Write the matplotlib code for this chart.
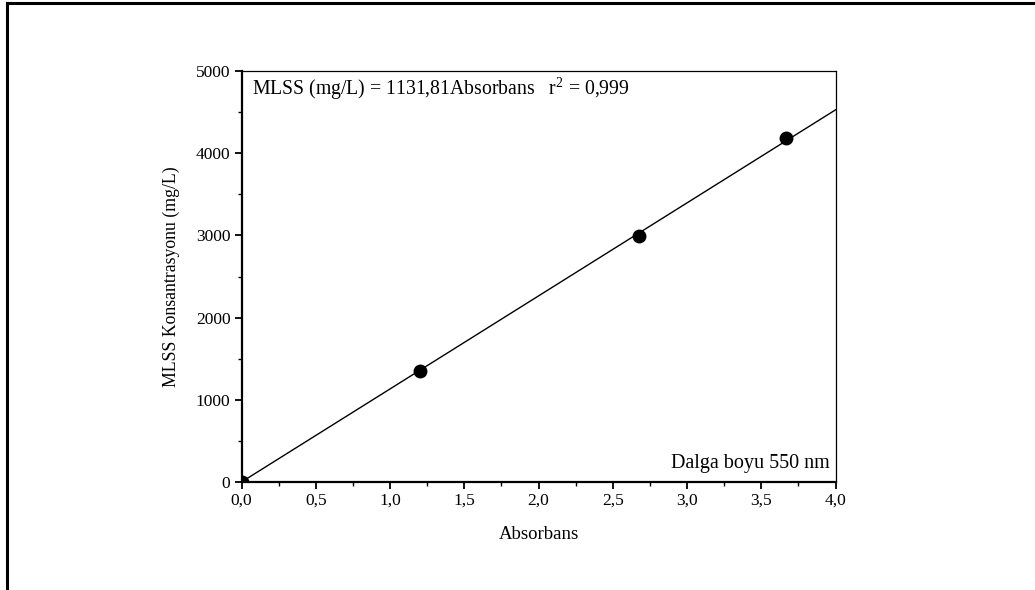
import matplotlib
matplotlib.use("Agg")
import matplotlib.pyplot as plt
from matplotlib.ticker import MultipleLocator, FuncFormatter
from matplotlib.lines import Line2D

# Data
absorbans = [0.0, 1.20, 2.68, 3.67]
mlss = [0, 1354, 2996, 4188]
slope = 1131.81
fit_x = [0.0, 4.0]
fit_y = [slope * v for v in fit_x]

plt.rcParams['font.family'] = ['Liberation Serif', 'DejaVu Serif']
plt.rcParams['mathtext.fontset'] = 'custom'
plt.rcParams['mathtext.rm'] = 'Liberation Serif'
plt.rcParams['mathtext.it'] = 'Liberation Serif:italic'

fig = plt.figure(figsize=(10.35, 5.9), dpi=100)
ax = fig.add_axes([241.5/1035, 1-482/590, 594/1035, 411/590])

ax.plot(fit_x, fit_y, color='black', lw=1.0, zorder=2)
ax.plot(absorbans, mlss, 'o', color='black', ms=9, zorder=3, clip_on=True)

ax.set_xlim(0, 4)
ax.set_ylim(0, 5000)
ax.xaxis.set_major_locator(MultipleLocator(0.5))
ax.xaxis.set_minor_locator(MultipleLocator(0.25))
ax.yaxis.set_major_locator(MultipleLocator(1000))
ax.yaxis.set_minor_locator(MultipleLocator(500))
ax.xaxis.set_major_formatter(FuncFormatter(lambda v, p: f"{v:.1f}".replace('.', ',')))
ax.yaxis.set_major_formatter(FuncFormatter(lambda v, p: f"{int(round(v))}"))

ax.tick_params(which='major', direction='out', length=5, width=1.3, labelsize=12.5, pad=3)
ax.tick_params(which='minor', direction='out', length=3, width=1.0)
ax.tick_params(top=False, right=False)

ax.spines['left'].set_linewidth(1.6)
ax.spines['bottom'].set_linewidth(1.6)
ax.spines['top'].set_linewidth(0.9)
ax.spines['right'].set_linewidth(0.9)

ax.set_xlabel('Absorbans', fontsize=13.5, labelpad=12)
ax.set_ylabel('MLSS Konsantrasyonu (mg/L)', fontsize=12.8, labelpad=11)

ax.text(0.018, 0.956, 'MLSS (mg/L) = 1131,81Absorbans   r$^2$ = 0,999',
        transform=ax.transAxes, fontsize=14.2, ha='left', va='center')
ax.text(0.991, 0.046, 'Dalga boyu 550 nm', transform=ax.transAxes,
        fontsize=14.5, ha='right', va='center')

# Figure frame lines (top and left)
fig.add_artist(Line2D([7/1035, 1.0], [1-3/590, 1-3/590], transform=fig.transFigure,
                      color='black', lw=2.2))
fig.add_artist(Line2D([7/1035, 7/1035], [0.0, 1-3/590], transform=fig.transFigure,
                      color='black', lw=2.2))

fig.savefig('out.png', dpi=100)
